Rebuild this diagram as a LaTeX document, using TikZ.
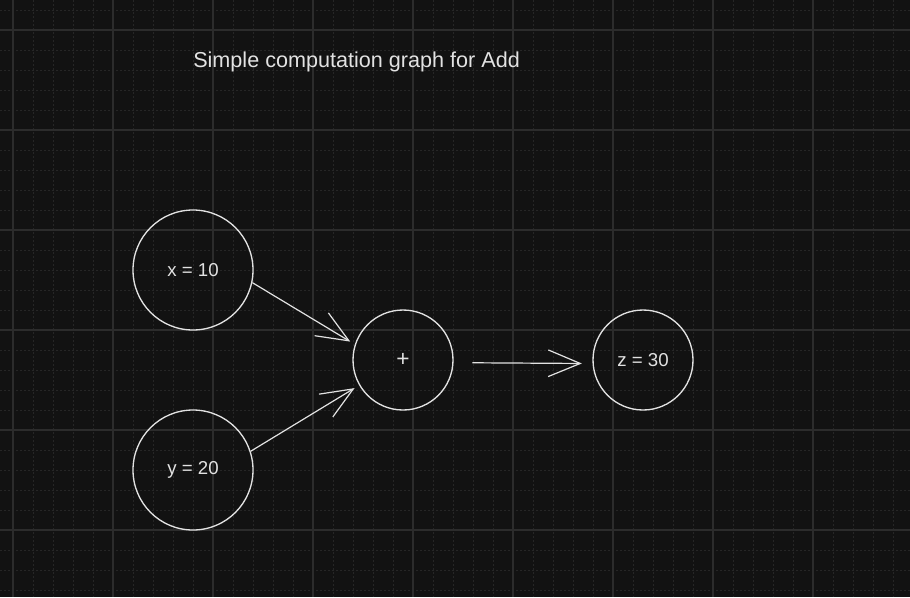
\documentclass[tikz,border=0pt]{standalone}
\usepackage{fontspec}
\setmainfont{Liberation Sans}
\usetikzlibrary{arrows.meta}
\definecolor{bg}{HTML}{121212}
\definecolor{gridmajor}{HTML}{2C2C2C}
\definecolor{gridminor}{HTML}{262626}
\definecolor{ink}{HTML}{E2E2E2}
\begin{document}
\begin{tikzpicture}[x=0.75pt,y=-0.75pt,
  valnode/.style={circle,draw=ink,line width=1pt,text=ink,inner sep=0pt,font=\fontsize{14}{16}\selectfont},
  link/.style={draw=ink,line width=0.9pt,-{Straight Barb[length=24pt,width=20pt,line width=0.9pt]}},
  title/.style={text=ink,font=\fontsize{16.2}{19}\selectfont,anchor=west,inner sep=0pt}]
\fill[bg] (0,0) rectangle (910,597);
\useasboundingbox (0,0) rectangle (910,597);
% minor grid
\foreach \i in {0,...,45} {
  \draw[gridminor,line width=0.75pt,dash pattern=on 1.5pt off 1.5pt] ({13+20*\i},0) -- ({13+20*\i},597);
}
\foreach \j in {0,...,29} {
  \draw[gridminor,line width=0.75pt,dash pattern=on 1.5pt off 1.5pt] (0,{10+20*\j}) -- (910,{10+20*\j});
}
% major grid
\foreach \i in {0,...,8} {
  \draw[gridmajor,line width=1pt] ({13+100*\i},0) -- ({13+100*\i},597);
}
\foreach \j in {0,...,5} {
  \draw[gridmajor,line width=1pt] (0,{30+100*\j}) -- (910,{30+100*\j});
}
% title
\node[title] (ttl) at (193,62) {Simple computation graph for Add};
% nodes
\node[valnode,minimum size=90pt] (xn) at (193,270) {x = 10};
\node[valnode,minimum size=90pt] (yn) at (193,470) {y = 20};
\node[valnode,minimum size=75pt,font=\fontsize{17}{19}\selectfont] (plus) at (403,360) {+};
\node[valnode,minimum size=75pt] (zn) at (643,360) {z = 30};
% connectors
\draw[link,shorten >=4pt] (xn.-12) -- (plus.162);
\draw[link,shorten >=4pt] (yn.18) -- (plus.210);
\draw[link,shorten <=14pt,shorten >=8pt] (plus.-3) -- (zn.184);
\end{tikzpicture}
\end{document}
